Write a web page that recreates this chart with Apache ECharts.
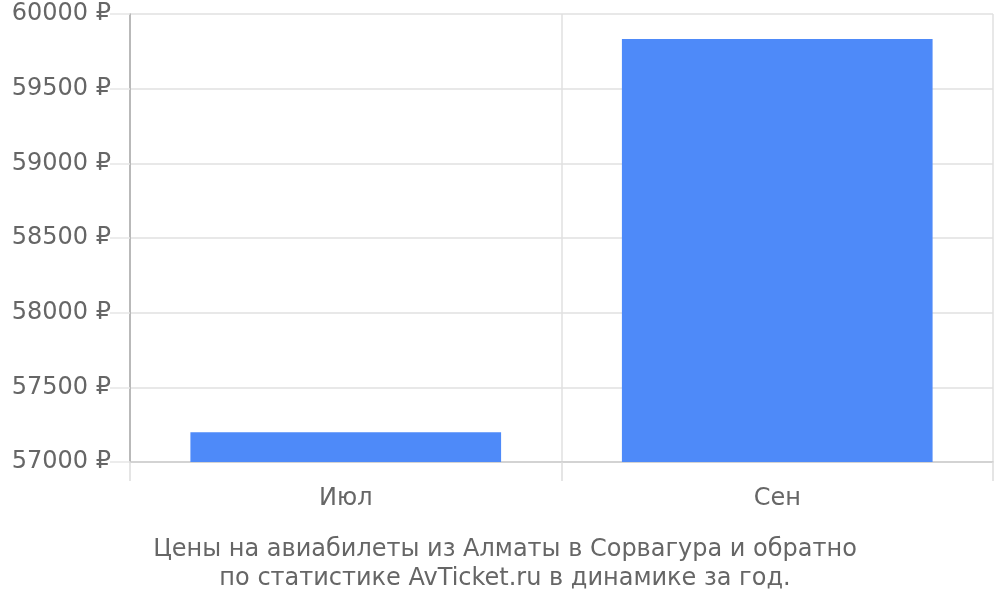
<!DOCTYPE html>
<html><head><meta charset="utf-8">
<script src="https://cdn.jsdelivr.net/npm/echarts@6/dist/echarts.min.js"></script>
<style>html,body{margin:0;padding:0;background:#fff}#c{width:1000px;height:600px}</style>
</head><body><div id="c"></div>
<script>
const categories = ['Июл', 'Сен'];
const prices = [57200, 59832];
const yTicks = { min: 57000, max: 60000, interval: 500 };
const titleLines = ['Цены на авиабилеты из Алматы в Сорвагура и обратно', 'по статистике AvTicket.ru в динамике за год.'];

const font = 'DejaVu Sans';
const chart = echarts.init(document.getElementById('c'), null, { renderer: 'canvas' });
chart.setOption({
  animation: false,
  backgroundColor: '#fff',
  title: {
    text: titleLines.join('\n'),
    left: 500, top: 530, textAlign: 'center',
    textStyle: { fontFamily: font, fontSize: 24, fontWeight: 'normal', color: '#666', lineHeight: 29 }
  },
  grid: { left: 130, right: 7, top: 14, bottom: 138 },
  xAxis: {
    type: 'category', data: categories,
    axisLine: { lineStyle: { color: '#ccc', width: 1.5 } },
    axisTick: { show: true, length: 19, lineStyle: { color: '#ddd', width: 1.5 } },
    splitLine: { show: true, lineStyle: { color: '#e0e0e0', width: 1.5 } },
    axisLabel: { fontFamily: font, fontSize: 24, color: '#666', margin: 25 }
  },
  yAxis: {
    type: 'value', min: yTicks.min, max: yTicks.max, interval: yTicks.interval,
    axisLine: { show: true, lineStyle: { color: '#aaa', width: 1.5 } },
    axisTick: { show: true, length: 20, lineStyle: { color: '#e6e6e6', width: 1.5 } },
    splitLine: { lineStyle: { color: '#e0e0e0', width: 1.5 } },
    axisLabel: { fontFamily: font, fontSize: 24, color: '#666', margin: 19, formatter: v => v + ' ₽' }
  },
  series: [{
    type: 'bar', data: prices, barCategoryGap: '28%',
    itemStyle: { color: '#4e8af9' }
  }]
});
</script></body></html>
